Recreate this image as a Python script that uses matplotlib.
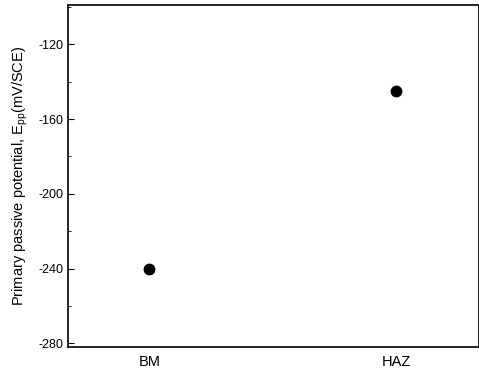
import numpy as np
import matplotlib.pyplot as plt

plt.rcParams['font.family'] = ['Liberation Sans', 'DejaVu Sans']
plt.rcParams['axes.unicode_minus'] = False
plt.rcParams['mathtext.fontset'] = 'custom'
plt.rcParams['mathtext.rm'] = 'Liberation Sans'

zones = ['BM', 'HAZ']
epp = [-240, -145]   # mV/SCE

fig = plt.figure(figsize=(4.79, 3.68), dpi=100)
ax = fig.add_axes([0.142, 0.057, 0.855, 0.929])

x = np.arange(len(zones))
ax.plot(x, epp, 'o', color='black', markersize=7.5)

ax.set_xlim(-0.33, 1.33)
ax.set_ylim(-282, -99)
ax.set_xticks(x)
ax.set_xticklabels(zones, fontsize=10.5)
ax.set_yticks([-280, -240, -200, -160, -120])
ax.set_yticks([-260, -220, -180, -140, -100], minor=True)
ax.tick_params(axis='y', direction='in', length=4, labelsize=9)
ax.tick_params(axis='y', which='minor', direction='in', length=2)
ax.tick_params(axis='x', length=0, pad=6)
ax.set_ylabel('Primary passive potential, E$_{\\mathrm{pp}}$(mV/SCE)', fontsize=10.5, labelpad=6)
for s in ax.spines.values():
    s.set_linewidth(1.2)
ax.spines['right'].set_linewidth(0.6)

fig.savefig('out.png', dpi=100)
